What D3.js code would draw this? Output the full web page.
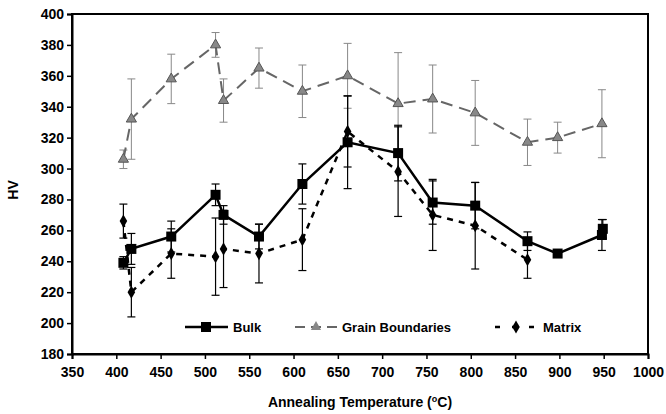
<!DOCTYPE html>
<html><head><meta charset="utf-8">
<script src="https://cdn.jsdelivr.net/npm/d3@7"></script>
<style>body{margin:0;background:#fff}text{font-family:Arial,"Liberation Sans",sans-serif;font-weight:bold}</style>
</head><body><svg id="c" width="666" height="414"></svg>
<script>
// data: [temp, HV, error]
var bulk = [[408,239,4],[417,248,10],[462,256,10],[512,283,7],[521,270,6],[561,256,8],[610,290,13],
  [661,317,30],[718,310,18],[757,278,14],[805,276,15],[864,253,6],[898,245,2],[948,257,10],[949,261,6]];
var grain = [[408,306,6],[417,332,26],[462,358,16],[512,380,8],[521,344,14],[561,365,13],[610,350,17],
  [661,360,21],[718,342,33],[757,345,22],[805,336,21],[864,317,15],[898,320,10],[948,329,22]];
var matrix = [[408,266,11],[417,220,16],[462,245,16],[512,243,25],[521,248,25],[561,245,19],[610,254,20],
  [661,324,23],[718,298,29],[757,270,23],[805,263,28],[864,241,12]];
var xTicks = d3.range(350, 1001, 50);
var yTicks = d3.range(180, 401, 20);

var svg = d3.select("#c");
var x = d3.scaleLinear().domain([350, 1000]).range([72, 648]);
var y = d3.scaleLinear().domain([180, 400]).range([354, 14]);

svg.append("rect").attr("x", 72).attr("y", 14).attr("width", 576).attr("height", 340)
  .attr("fill", "none").attr("stroke", "#000").attr("stroke-width", 2);

var xa = svg.append("g").attr("transform", "translate(0,354)")
  .call(d3.axisBottom(x).tickValues(xTicks).tickSize(5).tickFormat(d3.format("d")));
var ya = svg.append("g").attr("transform", "translate(72,0)")
  .call(d3.axisLeft(y).tickValues(yTicks).tickSize(5).tickFormat(d3.format("d")));
[xa, ya].forEach(function(a) {
  a.select(".domain").attr("stroke-width", 2);
  a.selectAll("line").attr("stroke-width", 1.5);
  a.selectAll("text").attr("font-size", 14).attr("font-weight", "normal").attr("fill", "#000");
});
xa.selectAll("text").attr("dy", "1.1em");

svg.append("text").attr("x", 360).attr("y", 407).attr("text-anchor", "middle").attr("font-size", 14)
  .html('Annealing Temperature (<tspan baseline-shift="super" font-size="9">o</tspan>C)');
svg.append("text").attr("transform", "translate(18,190) rotate(-90)").attr("text-anchor", "middle")
  .attr("font-size", 14).text("HV");

var line = d3.line().x(function(d) { return x(d[0]); }).y(function(d) { return y(d[1]); });

function errs(data, color, w) {
  var g = svg.append("g").attr("stroke", color).attr("stroke-width", w);
  data.forEach(function(d) {
    var cx = x(d[0]);
    g.append("line").attr("x1", cx).attr("x2", cx).attr("y1", y(d[1] - d[2])).attr("y2", y(d[1] + d[2]));
    g.append("line").attr("x1", cx - 4).attr("x2", cx + 4).attr("y1", y(d[1] - d[2])).attr("y2", y(d[1] - d[2]));
    g.append("line").attr("x1", cx - 4).attr("x2", cx + 4).attr("y1", y(d[1] + d[2])).attr("y2", y(d[1] + d[2]));
  });
}
errs(grain, "#888", 1);
errs(bulk, "#000", 1.2);
errs(matrix, "#000", 1.2);

svg.append("path").datum(grain).attr("d", line).attr("fill", "none").attr("stroke", "#666")
  .attr("stroke-width", 2).attr("stroke-dasharray", "12,7");
svg.append("path").datum(matrix).attr("d", line).attr("fill", "none").attr("stroke", "#000")
  .attr("stroke-width", 2.5).attr("stroke-dasharray", "6,6");
svg.append("path").datum(bulk).attr("d", line).attr("fill", "none").attr("stroke", "#000")
  .attr("stroke-width", 2.5);

var tri = d3.symbol().type(d3.symbolTriangle).size(45);
var dia = d3.symbol().type(d3.symbolDiamond).size(50);
svg.selectAll(".g").data(grain).enter().append("path").attr("d", tri)
  .attr("transform", function(d) { return "translate(" + x(d[0]) + "," + y(d[1]) + ")"; })
  .attr("fill", "#888").attr("stroke", "#555");
svg.selectAll(".m").data(matrix).enter().append("path").attr("d", dia)
  .attr("transform", function(d) { return "translate(" + x(d[0]) + "," + y(d[1]) + ")"; })
  .attr("fill", "#000");
svg.selectAll(".b").data(bulk).enter().append("rect")
  .attr("x", function(d) { return x(d[0]) - 5; }).attr("y", function(d) { return y(d[1]) - 5; })
  .attr("width", 10).attr("height", 10).attr("fill", "#000");

// legend
var leg = svg.append("g");
leg.append("line").attr("x1", 185).attr("x2", 228).attr("y1", 327).attr("y2", 327).attr("stroke", "#000").attr("stroke-width", 2.5);
leg.append("rect").attr("x", 201).attr("y", 322).attr("width", 10).attr("height", 10);
leg.append("text").attr("x", 233).attr("y", 332).attr("font-size", 13).text("Bulk");
leg.append("line").attr("x1", 295).attr("x2", 340).attr("y1", 327).attr("y2", 327).attr("stroke", "#666").attr("stroke-width", 2).attr("stroke-dasharray", "10,6");
leg.append("path").attr("d", tri).attr("transform", "translate(316,327)").attr("fill", "#888");
leg.append("text").attr("x", 342).attr("y", 332).attr("font-size", 13).text("Grain Boundaries");
leg.append("line").attr("x1", 495).attr("x2", 540).attr("y1", 327).attr("y2", 327).attr("stroke", "#000").attr("stroke-width", 2.5).attr("stroke-dasharray", "5,12");
leg.append("path").attr("d", dia).attr("transform", "translate(516,327)");
leg.append("text").attr("x", 543).attr("y", 332).attr("font-size", 13).text("Matrix");
</script></body></html>
